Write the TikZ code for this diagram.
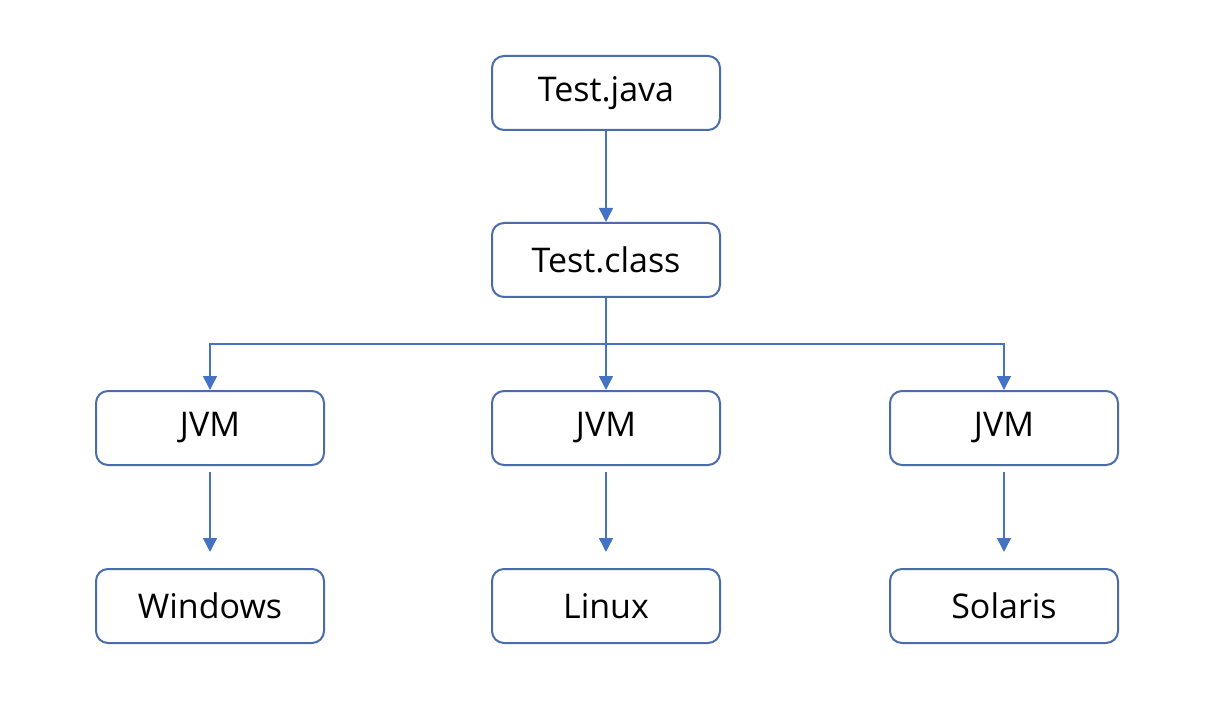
\documentclass[tikz,border=0pt]{standalone}
\usepackage{fontspec}
\setmainfont{Open Sans}
\usepackage{tikz}
\usetikzlibrary{arrows.meta}
\definecolor{boxline}{HTML}{4A6DAA}
\definecolor{arrowline}{HTML}{4472C4}

\begin{document}
\begin{tikzpicture}[x=0.5pt, y=-0.5pt,
  textbox/.style={font=\fontsize{17}{20}\selectfont, draw=boxline, line width=1pt, rounded corners=6pt, minimum width=114pt, minimum height=37pt, inner sep=0, align=center},
  link/.style={draw=arrowline, line width=0.75pt, -{Triangle[width=7pt, length=7pt]}}]
\useasboundingbox (0,0) rectangle (1228,722);
\node[textbox] (java) at (606,93) {Test.java};
\node[textbox] (class) at (606,260) {Test.class};
\node[textbox] (jvm1) at (210,428) {JVM};
\node[textbox] (jvm2) at (606,428) {JVM};
\node[textbox] (jvm3) at (1004,428) {JVM};
\node[textbox] (win) at (210,606) {Windows};
\node[textbox] (lin) at (606,606) {Linux};
\node[textbox] (sol) at (1004,606) {Solaris};
\coordinate (bus) at (606,344);
\draw [link] (java) -- (class);
\draw [link] (class) -- (jvm2);
\draw [link] (class.south) -- (bus) -| (jvm1.north);
\draw [link] (class.south) -- (bus) -| (jvm3.north);
\draw [link, shorten <=3pt, shorten >=8pt] (jvm1) -- (win);
\draw [link, shorten <=3pt, shorten >=8pt] (jvm2) -- (lin);
\draw [link, shorten <=3pt, shorten >=8pt] (jvm3) -- (sol);
\end{tikzpicture}
\end{document}
